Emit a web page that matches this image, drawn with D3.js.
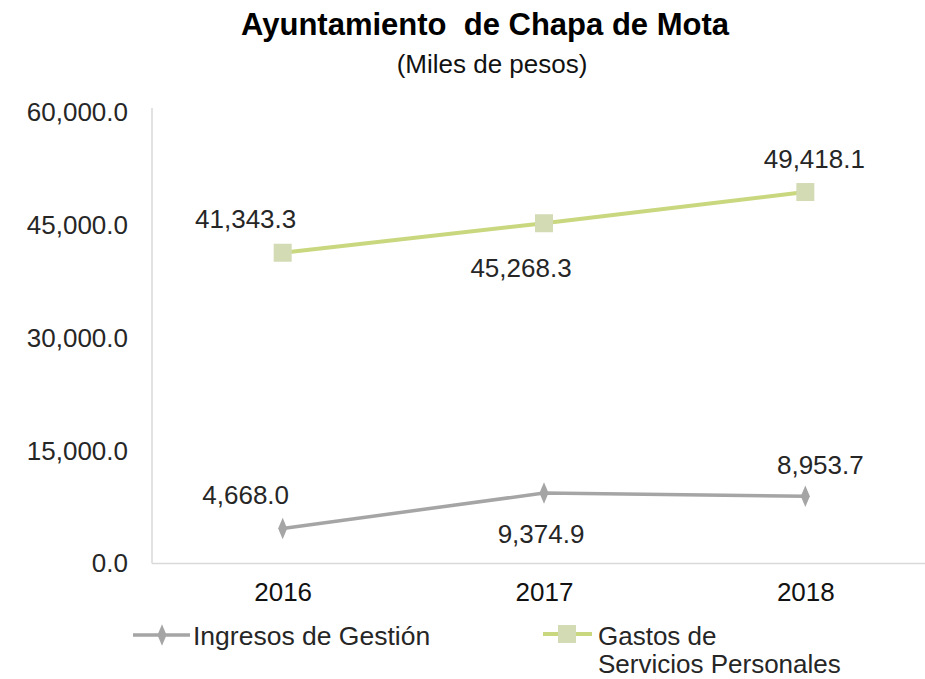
<!DOCTYPE html>
<html><head><meta charset="utf-8">
<script src="https://cdn.jsdelivr.net/npm/d3@7"></script>
<style>body{margin:0;background:#fff;} text{font-family:"Liberation Sans",Arial,sans-serif;}</style>
</head><body>
<svg id="c" width="925" height="679"></svg>
<script>
const years = ["2016", "2017", "2018"];
const ingresos = [4668.0, 9374.9, 8953.7];
const gastos = [41343.3, 45268.3, 49418.1];
const yTicks = [0, 15000, 30000, 45000, 60000];
const seriesNames = ["Ingresos de Gestión", "Gastos de Servicios Personales"];

const svg = d3.select("#c");
const x = d3.scalePoint().domain(years).range([152, 936]).padding(0.5);
const y = d3.scaleLinear().domain([0, 60000]).range([563.5, 112.5]);
const fmt = d3.format(",.1f");

// title
svg.append("text").attr("x", 485).attr("y", 35).attr("text-anchor", "middle")
  .style("font-size", "31px").style("font-weight", "bold").style("white-space", "pre")
  .attr("fill", "#000").text("Ayuntamiento  de Chapa de Mota");
svg.append("text").attr("x", 492).attr("y", 73).attr("text-anchor", "middle")
  .style("font-size", "26px").attr("fill", "#111").text("(Miles de pesos)");

// axes
const yAxis = d3.axisLeft(y).tickValues(yTicks).tickFormat(fmt).tickSize(0).tickPadding(24);
const gy = svg.append("g").attr("transform", "translate(152,0)").call(yAxis);
gy.select(".domain").remove();
gy.selectAll("text").style("font-size", "26px").attr("fill", "#262626").style("font-family", "Liberation Sans, Arial, sans-serif");
svg.append("line").attr("x1", 152).attr("x2", 152).attr("y1", 108).attr("y2", y(0))
  .attr("stroke", "#d9d9d9").attr("stroke-width", 1.5);
svg.append("line").attr("x1", 152).attr("x2", 925).attr("y1", y(0)).attr("y2", y(0))
  .attr("stroke", "#d9d9d9").attr("stroke-width", 1.5);

const xAxis = d3.axisBottom(x).tickSize(0).tickPadding(0);
const gx = svg.append("g").attr("transform", "translate(0,583)").call(xAxis);
gx.select(".domain").remove();
gx.selectAll("text").style("font-size", "26px").attr("fill", "#111").style("font-family", "Liberation Sans, Arial, sans-serif");

const grayC = "#a5a5a5", greenLine = "#c9d77e", greenMark = "#d3dbb5";
const line = d3.line().x((d, i) => x(years[i])).y(d => y(d));

svg.append("path").datum(gastos).attr("d", line).attr("fill", "none")
  .attr("stroke", greenLine).attr("stroke-width", 4);
svg.selectAll(".gm").data(gastos).enter().append("rect")
  .attr("x", (d, i) => x(years[i]) - 9).attr("y", d => y(d) - 9)
  .attr("width", 18).attr("height", 18).attr("fill", greenMark);

svg.append("path").datum(ingresos).attr("d", line).attr("fill", "none")
  .attr("stroke", grayC).attr("stroke-width", 3.5);
const diamond = d3.symbol().type(d3.symbolDiamond).size(110);
svg.selectAll(".im").data(ingresos).enter().append("path")
  .attr("d", diamond).attr("transform", (d, i) => `translate(${x(years[i])},${y(d)}) scale(0.8,1.1)`)
  .attr("fill", grayC);

// data labels
const gOff = [[-37, -25], [-23, 54], [9, -24]];
const iOff = [[-37, -24], [-3, 50], [15, -22]];
svg.selectAll(".gl").data(gastos).enter().append("text")
  .attr("x", (d, i) => x(years[i]) + gOff[i][0]).attr("y", (d, i) => y(d) + gOff[i][1])
  .attr("text-anchor", "middle").style("font-size", "26px").attr("fill", "#262626").text(d => fmt(d));
svg.selectAll(".il").data(ingresos).enter().append("text")
  .attr("x", (d, i) => x(years[i]) + iOff[i][0]).attr("y", (d, i) => y(d) + iOff[i][1])
  .attr("text-anchor", "middle").style("font-size", "26px").attr("fill", "#262626").text(d => fmt(d));

// legend
svg.append("line").attr("x1", 133).attr("x2", 190).attr("y1", 635).attr("y2", 635)
  .attr("stroke", grayC).attr("stroke-width", 3.5);
svg.append("path").attr("d", diamond).attr("transform", "translate(162,635) scale(0.8,1.1)").attr("fill", grayC);
svg.append("text").attr("x", 193).attr("y", 645).style("font-size", "26.5px").attr("fill", "#262626").text(seriesNames[0]);

svg.append("line").attr("x1", 543).attr("x2", 592).attr("y1", 634).attr("y2", 634)
  .attr("stroke", greenLine).attr("stroke-width", 4);
svg.append("rect").attr("x", 558).attr("y", 625).attr("width", 18).attr("height", 18).attr("fill", greenMark);
const lt = svg.append("text").attr("x", 598).attr("y", 645).style("font-size", "26px").attr("fill", "#262626");
lt.append("tspan").attr("x", 598).attr("y", 645).text("Gastos de");
lt.append("tspan").attr("x", 598).attr("y", 673).text("Servicios Personales");
</script>
</body></html>
